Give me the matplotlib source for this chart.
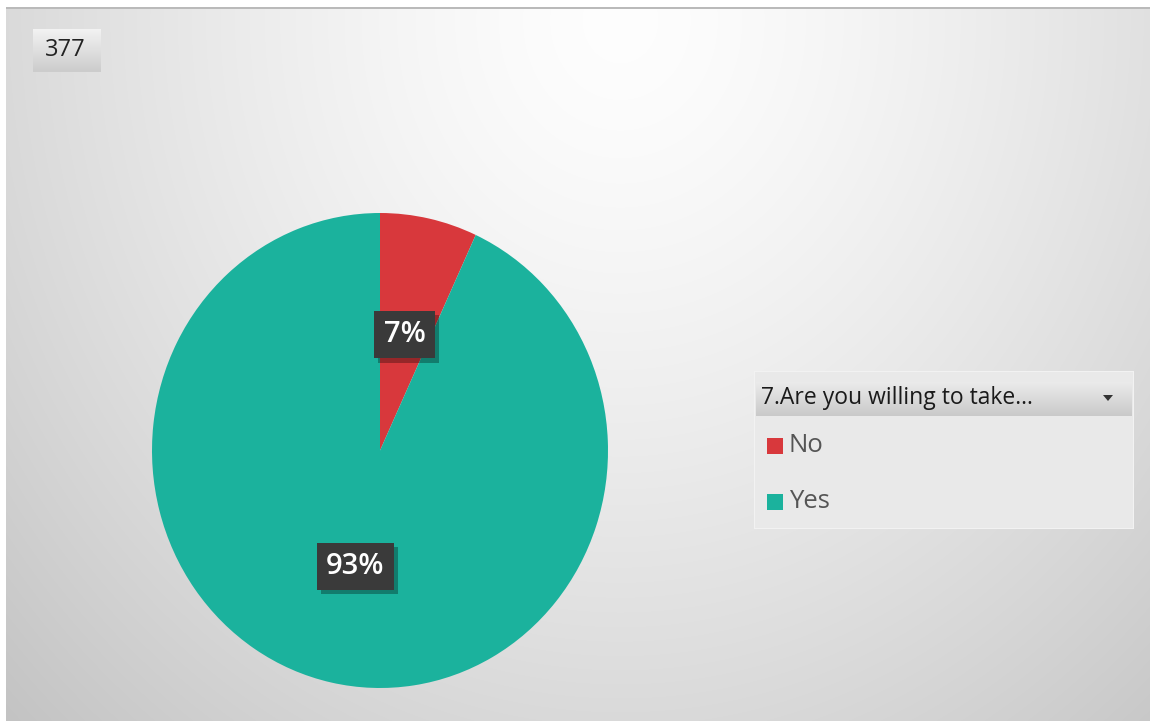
import numpy as np
import matplotlib
matplotlib.use("Agg")
import matplotlib.pyplot as plt
import matplotlib.patheffects as pe
from matplotlib.patches import Rectangle, Polygon

categories = ["No", "Yes"]
counts = [26, 351]
colors = ["#D8383C", "#1BB29D"]
legend_title = "7.Are you willing to take..."

W, H = 1150, 721
plt.rcParams["font.family"] = ["Open Sans", "DejaVu Sans"]

fig = plt.figure(figsize=(W / 100, H / 100), dpi=100)


def px_axes(x0, y0, x1, y1, **kw):
    # axes placed by pixel box (top-left origin)
    return fig.add_axes([x0 / W, 1 - y1 / H, (x1 - x0) / W, (y1 - y0) / H], **kw)


# background: soft radial gradient, bright near the top centre
bg = px_axes(0, 0, W, H)
yy, xx = np.mgrid[0:H, 0:W]
d = np.sqrt(((xx - 620) / 760.0) ** 2 + ((yy - 20) / 860.0) ** 2)
shade = np.clip(0.995 - 0.19 * d ** 1.4, 0.75, 1.0)
shade[:8, :] = 1.0
shade[:, :6] = 1.0
shade[7:9, 6:] = 0.73
img = np.dstack([shade, shade, shade])
bg.imshow(img, extent=(0, W, H, 0), aspect="auto", interpolation="bilinear")
bg.set_xlim(0, W)
bg.set_ylim(H, 0)
bg.axis("off")

# total count badge
total = sum(counts)
badge = px_axes(33, 29, 101, 72)
grad = np.linspace(0.95, 0.80, 50)[:, None] * np.ones((1, 10))
badge.imshow(np.dstack([grad] * 3), extent=(0, 1, 0, 1), aspect="auto")
badge.text(0.48, 0.5, str(total), ha="center", va="center", fontsize=17,
           color="#222222")
badge.axis("off")

# pie
ax = px_axes(152, 213, 608, 688)
wedges, texts, autotexts = ax.pie(
    counts, colors=colors, startangle=90, counterclock=False, radius=1.0,
    autopct=lambda p: f"{p:.0f}%", pctdistance=0.5,
    wedgeprops=dict(linewidth=0),
)
ax.set_aspect("auto")
ax.set_xlim(-1, 1)
ax.set_ylim(-1, 1)
ax.axis("off")
for t in autotexts:
    t.set_color("white")
    t.set_fontsize(21)
    t.set_fontweight("semibold")
    t.set_bbox(dict(boxstyle="square,pad=0.32", facecolor="#3a3a3a",
                    edgecolor="none"))
    t.get_bbox_patch().set_path_effects([
        pe.SimplePatchShadow(offset=(3, -3), shadow_rgbFace="#000000", alpha=0.3),
        pe.Normal(),
    ])

# legend panel
lg = px_axes(754, 371, 1134, 529)
lg.set_xlim(754, 1134)
lg.set_ylim(529, 371)
lg.axis("off")
lg.add_patch(Rectangle((754, 371), 380, 158, facecolor="#e9e9e9",
                       edgecolor="#f2f2f2", linewidth=1.5))
hgrad = np.linspace(0.92, 0.79, 40)[:, None] * np.ones((1, 10))
lg.imshow(np.dstack([hgrad] * 3), extent=(756, 1131, 416, 382),
          aspect="auto", zorder=2)
lg.text(761, 398, legend_title, ha="left", va="center", fontsize=16.5,
        color="#1a1a1a", zorder=3)
lg.add_patch(Polygon([(1103, 395), (1113, 395), (1108, 401)], closed=True,
                     facecolor="#333333", edgecolor="none", zorder=3))
ys = [446, 502]
for name, col, y in zip(categories, colors, ys):
    lg.add_patch(Rectangle((767, y - 8), 16, 16, facecolor=col,
                           edgecolor="none", zorder=3))
    lg.text(789, y, name, ha="left", va="center", fontsize=18.5,
            color="#555555", zorder=3)
lg.set_xlim(754, 1134)
lg.set_ylim(529, 371)

fig.savefig("out.png", dpi=100)
